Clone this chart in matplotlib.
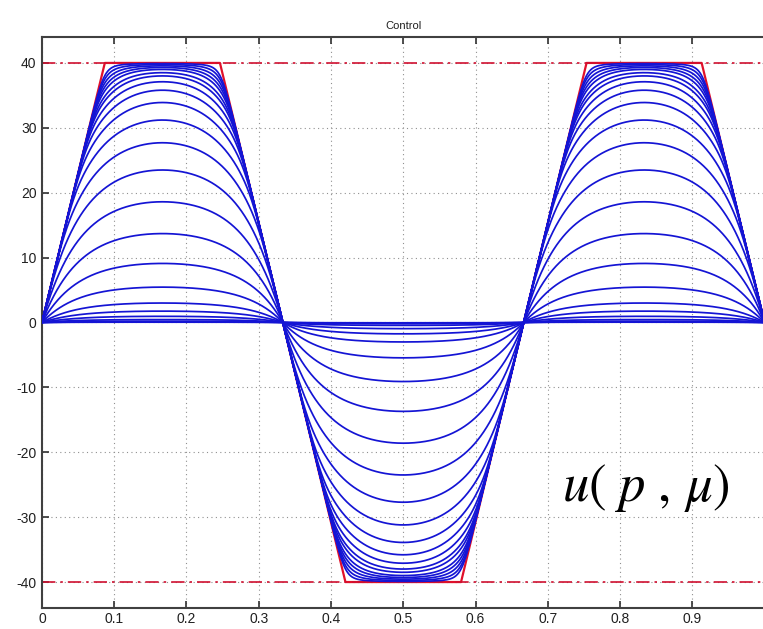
import numpy as np
import matplotlib
matplotlib.use("Agg")
import matplotlib.pyplot as plt

# ---- data -------------------------------------------------------------
u_max = 40.0                     # control amplitude bound
# peak value reached by each member of the u(p, mu) family (one per mu)
peak_levels = [0.05, 0.1, 0.2, 0.45, 0.95, 1.75, 3.0, 5.45, 9.1, 13.7,
               18.6, 23.5, 27.7, 31.2, 33.9, 35.8, 37.1, 38.0, 38.5,
               39.0, 39.3, 39.55, 39.75, 39.9]
# limiting (amplitude + rate bounded) control
bound_x = [0.0, 0.087, 0.2463, 1 / 3, 0.42, 0.58, 2 / 3, 0.7537, 0.913, 1.0]
bound_y = [0, 40, 40, 0, -40, -40, 0, 40, 40, 0]
xticks = [0, 0.1, 0.2, 0.3, 0.4, 0.5, 0.6, 0.7, 0.8, 0.9]
yticks = [-40, -30, -20, -10, 0, 10, 20, 30, 40]

# ---- model of the family ---------------------------------------------
ramp = bound_x[1]
slope = u_max / ramp
period = 1 / 3
arc_k = 20.0        # boundary-layer stiffness of the unconstrained arc
P_SOFT = 18.0       # sharpness of the soft-min between the constraints


def unit_arc(r):
    """Normalised arc on [0, period]: 0 at both ends, 1 in the middle."""
    h = period / 2
    return (1 - np.cosh(arc_k * (r - h)) / np.cosh(arc_k * h)) / \
           (1 - 1 / np.cosh(arc_k * h))


def family_member(x, peak):
    """Arc of height `peak` limited by the rate and amplitude bounds."""
    rate_mid = slope * period / 2
    inv = peak ** -P_SOFT - u_max ** -P_SOFT - rate_mid ** -P_SOFT
    c = inv ** (-1 / P_SOFT) if inv > 0 else 1e6
    seg = np.floor(x / period).astype(int)
    r = x - seg * period
    sign = np.where(seg % 2 == 0, 1.0, -1.0)
    d = np.minimum(r, period - r)
    a = np.maximum(c * unit_arc(r), 1e-12)
    b = np.maximum(slope * d, 1e-12)
    v = (a ** -P_SOFT + b ** -P_SOFT + u_max ** -P_SOFT) ** (-1 / P_SOFT)
    return sign * v


plt.rcParams["axes.unicode_minus"] = False
plt.rcParams["mathtext.fontset"] = "stix"
plt.rcParams["font.family"] = ["Liberation Sans", "DejaVu Sans"]

fig = plt.figure(figsize=(7.63, 6.29), dpi=100)
ax = fig.add_axes([0.055, 0.0334, 0.947, 0.9078])

x = np.linspace(0, 0.99999, 3001)
for pk in peak_levels:
    ax.plot(x, family_member(x, pk), color="#1414d4", lw=1.25, zorder=3)

ax.plot(bound_x, bound_y, color="#e0102a", lw=1.6, zorder=2)
for lev in (u_max, -u_max):
    ax.axhline(lev, color="#d01030", lw=1.2, dashes=(8, 3, 1.5, 3), zorder=2)

ax.set_xlim(0, 1)
ax.set_ylim(-44, 44)
ax.set_xticks(xticks)
ax.set_xticklabels([f"{t:g}" for t in xticks])
ax.set_yticks(yticks)
ax.set_yticklabels([f"{t:d}" for t in yticks])
ax.tick_params(direction="in", length=5, width=1.2, colors="#303030",
               labelsize=10, top=True, right=False, labelcolor="#202020")
ax.tick_params(axis="x", pad=3)
ax.tick_params(axis="y", pad=4)
ax.grid(True, color="#909090", linestyle=(0, (1, 3)), lw=0.8, zorder=0)

for side in ("left", "bottom", "top"):
    ax.spines[side].set_color("#404040")
    ax.spines[side].set_linewidth(1.5)
ax.spines["right"].set_visible(False)

ax.set_title("Control", fontsize=8, pad=6, color="#202020")
ax.text(0.72, -25.5, r"$u(\ p\ ,\,\mu)$", fontsize=38, ha="left",
        va="center", zorder=4)

fig.savefig("out.png", dpi=100)
